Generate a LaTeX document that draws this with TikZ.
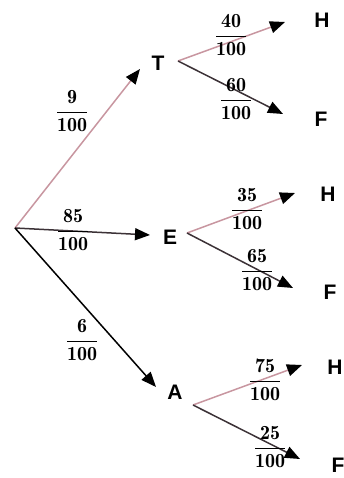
\documentclass[tikz,border=0pt]{standalone}
\usepackage{amsmath}
\usepackage{fontspec}
\newfontfamily\lettr{Liberation Sans}
\usetikzlibrary{arrows.meta}
\definecolor{faded}{RGB}{200,150,160}
\definecolor{darkline}{RGB}{60,50,55}
\begin{document}
\begin{tikzpicture}[x=1pt,y=-1pt,
  arr/.style={line width=1.5pt,-{Triangle[length=15pt,width=12pt,color=black]}},
  lbl/.style={inner sep=0pt,font=\lettr\bfseries\fontsize{21}{21}\selectfont},
  frac/.style={inner sep=0pt,font=\fontsize{20}{22}\selectfont}]
\useasboundingbox (0,0) rectangle (344,478);
% root and branch points
\coordinate (root) at (15,228);
\coordinate (tT) at (140,69);
\coordinate (tE) at (150,235);
\coordinate (tA) at (156,387);
\coordinate (sT) at (178,61);
\coordinate (sE) at (187,233);
\coordinate (sA) at (193,405);
\coordinate (tH1) at (285,22);
\coordinate (tF1) at (283,114);
\coordinate (tH2) at (295,193);
\coordinate (tF2) at (293,288);
\coordinate (tH3) at (302,365);
\coordinate (tF3) at (300,459);
% letters
\node[lbl] (T) at (158,63) {T};
\node[lbl] (E) at (170,237) {E};
\node[lbl] (A) at (175,392) {A};
\node[lbl] (H1) at (322,20) {H};
\node[lbl] (F1) at (321,119) {F};
\node[lbl] (H2) at (328,194) {H};
\node[lbl] (F2) at (330,292) {F};
\node[lbl] (H3) at (335,367) {H};
\node[lbl] (F3) at (338,465) {F};
% connectors
\draw[arr,faded] (root) -- (tT);
\draw[arr,darkline] (root) -- (tE);
\draw[arr,black] (root) -- (tA);
\draw[arr,faded] (sT) -- (tH1);
\draw[arr,darkline] (sT) -- (tF1);
\draw[arr,faded] (sE) -- (tH2);
\draw[arr,darkline] (sE) -- (tF2);
\draw[arr,faded] (sA) -- (tH3);
\draw[arr,darkline] (sA) -- (tF3);
% probabilities
\node[frac] (p1) at (72,111) {$\dfrac{\mathbf{9}}{\mathbf{100}}$};
\node[frac] (p2) at (73,230) {$\dfrac{\mathbf{85}}{\mathbf{100}}$};
\node[frac] (p3) at (82,340) {$\dfrac{\mathbf{6}}{\mathbf{100}}$};
\node[frac] (p4) at (231,35) {$\dfrac{\mathbf{40}}{\mathbf{100}}$};
\node[frac] (p5) at (236,99) {$\dfrac{\mathbf{60}}{\mathbf{100}}$};
\node[frac] (p6) at (247,209) {$\dfrac{\mathbf{35}}{\mathbf{100}}$};
\node[frac] (p7) at (257,270) {$\dfrac{\mathbf{65}}{\mathbf{100}}$};
\node[frac] (p8) at (265,380) {$\dfrac{\mathbf{75}}{\mathbf{100}}$};
\node[frac] (p9) at (270,447) {$\dfrac{\mathbf{25}}{\mathbf{100}}$};
\end{tikzpicture}
\end{document}
